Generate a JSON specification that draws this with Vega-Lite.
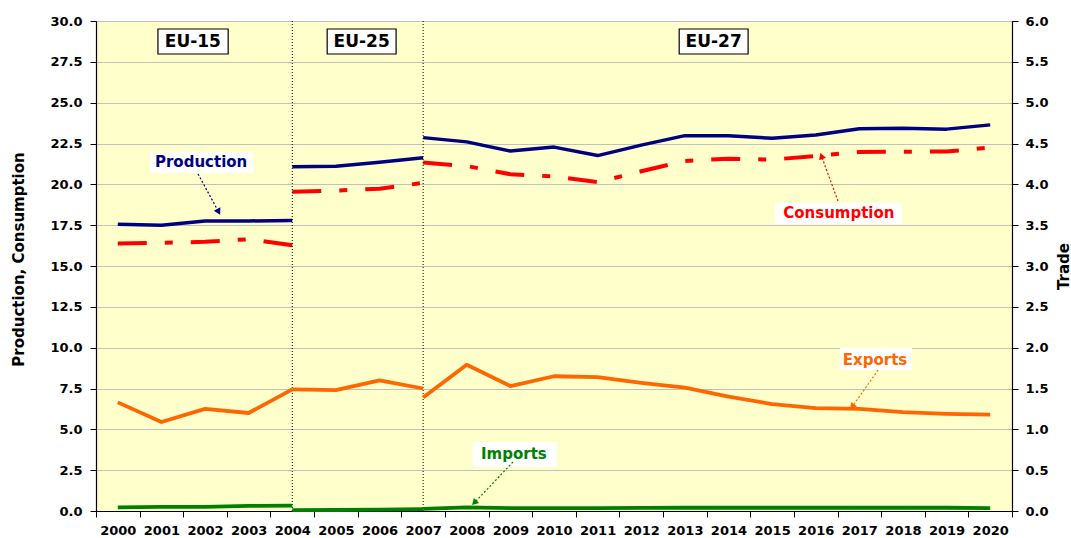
{
  "$schema": "https://vega.github.io/schema/vega-lite/v6.json",
  "width": 916,
  "height": 490,
  "autosize": {"type": "none"},
  "padding": {"left": 96, "top": 21, "right": 59, "bottom": 27},
  "background": "white",
  "config": {
    "view": {"fill": "#FFFFCC", "stroke": "#808080", "strokeWidth": 1},
    "font": "DejaVu Sans",
    "axis": {
      "labelFont": "DejaVu Sans", "labelFontWeight": "bold", "labelFontSize": 13, "labelColor": "#000000",
      "titleFont": "DejaVu Sans", "titleFontWeight": "bold", "titleFontSize": 15, "titleColor": "#000000",
      "domainColor": "#000000", "domainWidth": 1.2, "tickColor": "#000000", "tickSize": 6, "tickWidth": 1
    }
  },
  "datasets": {
    "main": [
      {"year": 2000, "series": "Production", "seg": "EU-15", "value": 17.55},
      {"year": 2001, "series": "Production", "seg": "EU-15", "value": 17.5},
      {"year": 2002, "series": "Production", "seg": "EU-15", "value": 17.76},
      {"year": 2003, "series": "Production", "seg": "EU-15", "value": 17.76},
      {"year": 2004, "series": "Production", "seg": "EU-15", "value": 17.78},
      {"year": 2004, "series": "Production", "seg": "EU-25", "value": 21.08},
      {"year": 2005, "series": "Production", "seg": "EU-25", "value": 21.1},
      {"year": 2006, "series": "Production", "seg": "EU-25", "value": 21.35},
      {"year": 2007, "series": "Production", "seg": "EU-25", "value": 21.63},
      {"year": 2007, "series": "Production", "seg": "EU-27", "value": 22.86},
      {"year": 2008, "series": "Production", "seg": "EU-27", "value": 22.6},
      {"year": 2009, "series": "Production", "seg": "EU-27", "value": 22.04},
      {"year": 2010, "series": "Production", "seg": "EU-27", "value": 22.28},
      {"year": 2011, "series": "Production", "seg": "EU-27", "value": 21.76},
      {"year": 2012, "series": "Production", "seg": "EU-27", "value": 22.4},
      {"year": 2013, "series": "Production", "seg": "EU-27", "value": 22.98},
      {"year": 2014, "series": "Production", "seg": "EU-27", "value": 22.98},
      {"year": 2015, "series": "Production", "seg": "EU-27", "value": 22.82},
      {"year": 2016, "series": "Production", "seg": "EU-27", "value": 23.02},
      {"year": 2017, "series": "Production", "seg": "EU-27", "value": 23.4},
      {"year": 2018, "series": "Production", "seg": "EU-27", "value": 23.43},
      {"year": 2019, "series": "Production", "seg": "EU-27", "value": 23.38},
      {"year": 2020, "series": "Production", "seg": "EU-27", "value": 23.64},
      {"year": 2000, "series": "Consumption", "seg": "EU-15", "value": 16.37},
      {"year": 2001, "series": "Consumption", "seg": "EU-15", "value": 16.42},
      {"year": 2002, "series": "Consumption", "seg": "EU-15", "value": 16.48},
      {"year": 2003, "series": "Consumption", "seg": "EU-15", "value": 16.64},
      {"year": 2004, "series": "Consumption", "seg": "EU-15", "value": 16.27},
      {"year": 2004, "series": "Consumption", "seg": "EU-25", "value": 19.55},
      {"year": 2005, "series": "Consumption", "seg": "EU-25", "value": 19.62},
      {"year": 2006, "series": "Consumption", "seg": "EU-25", "value": 19.73},
      {"year": 2007, "series": "Consumption", "seg": "EU-25", "value": 20.09},
      {"year": 2007, "series": "Consumption", "seg": "EU-27", "value": 21.33},
      {"year": 2008, "series": "Consumption", "seg": "EU-27", "value": 21.12},
      {"year": 2009, "series": "Consumption", "seg": "EU-27", "value": 20.62},
      {"year": 2010, "series": "Consumption", "seg": "EU-27", "value": 20.48},
      {"year": 2011, "series": "Consumption", "seg": "EU-27", "value": 20.13},
      {"year": 2012, "series": "Consumption", "seg": "EU-27", "value": 20.8},
      {"year": 2013, "series": "Consumption", "seg": "EU-27", "value": 21.43},
      {"year": 2014, "series": "Consumption", "seg": "EU-27", "value": 21.57},
      {"year": 2015, "series": "Consumption", "seg": "EU-27", "value": 21.51},
      {"year": 2016, "series": "Consumption", "seg": "EU-27", "value": 21.74},
      {"year": 2017, "series": "Consumption", "seg": "EU-27", "value": 21.98},
      {"year": 2018, "series": "Consumption", "seg": "EU-27", "value": 22.0},
      {"year": 2019, "series": "Consumption", "seg": "EU-27", "value": 22.01},
      {"year": 2020, "series": "Consumption", "seg": "EU-27", "value": 22.25}
    ],
    "trade": [
      {"year": 2000, "series": "Exports", "seg": "EU-15", "value": 1.33},
      {"year": 2001, "series": "Exports", "seg": "EU-15", "value": 1.09},
      {"year": 2002, "series": "Exports", "seg": "EU-15", "value": 1.25},
      {"year": 2003, "series": "Exports", "seg": "EU-15", "value": 1.2},
      {"year": 2004, "series": "Exports", "seg": "EU-15", "value": 1.49},
      {"year": 2004, "series": "Exports", "seg": "EU-25", "value": 1.49},
      {"year": 2005, "series": "Exports", "seg": "EU-25", "value": 1.48},
      {"year": 2006, "series": "Exports", "seg": "EU-25", "value": 1.6},
      {"year": 2007, "series": "Exports", "seg": "EU-25", "value": 1.5},
      {"year": 2007, "series": "Exports", "seg": "EU-27", "value": 1.39},
      {"year": 2008, "series": "Exports", "seg": "EU-27", "value": 1.79},
      {"year": 2009, "series": "Exports", "seg": "EU-27", "value": 1.53},
      {"year": 2010, "series": "Exports", "seg": "EU-27", "value": 1.65},
      {"year": 2011, "series": "Exports", "seg": "EU-27", "value": 1.64},
      {"year": 2012, "series": "Exports", "seg": "EU-27", "value": 1.57},
      {"year": 2013, "series": "Exports", "seg": "EU-27", "value": 1.51},
      {"year": 2014, "series": "Exports", "seg": "EU-27", "value": 1.4},
      {"year": 2015, "series": "Exports", "seg": "EU-27", "value": 1.31},
      {"year": 2016, "series": "Exports", "seg": "EU-27", "value": 1.26},
      {"year": 2017, "series": "Exports", "seg": "EU-27", "value": 1.25},
      {"year": 2018, "series": "Exports", "seg": "EU-27", "value": 1.21},
      {"year": 2019, "series": "Exports", "seg": "EU-27", "value": 1.19},
      {"year": 2020, "series": "Exports", "seg": "EU-27", "value": 1.18},
      {"year": 2000, "series": "Imports", "seg": "EU-15", "value": 0.045},
      {"year": 2001, "series": "Imports", "seg": "EU-15", "value": 0.05},
      {"year": 2002, "series": "Imports", "seg": "EU-15", "value": 0.05},
      {"year": 2003, "series": "Imports", "seg": "EU-15", "value": 0.063},
      {"year": 2004, "series": "Imports", "seg": "EU-15", "value": 0.066},
      {"year": 2004, "series": "Imports", "seg": "EU-25", "value": 0.01},
      {"year": 2005, "series": "Imports", "seg": "EU-25", "value": 0.012},
      {"year": 2006, "series": "Imports", "seg": "EU-25", "value": 0.018},
      {"year": 2007, "series": "Imports", "seg": "EU-25", "value": 0.022},
      {"year": 2007, "series": "Imports", "seg": "EU-27", "value": 0.025},
      {"year": 2008, "series": "Imports", "seg": "EU-27", "value": 0.045},
      {"year": 2009, "series": "Imports", "seg": "EU-27", "value": 0.036},
      {"year": 2010, "series": "Imports", "seg": "EU-27", "value": 0.035},
      {"year": 2011, "series": "Imports", "seg": "EU-27", "value": 0.035},
      {"year": 2012, "series": "Imports", "seg": "EU-27", "value": 0.038},
      {"year": 2013, "series": "Imports", "seg": "EU-27", "value": 0.04},
      {"year": 2014, "series": "Imports", "seg": "EU-27", "value": 0.04},
      {"year": 2015, "series": "Imports", "seg": "EU-27", "value": 0.04},
      {"year": 2016, "series": "Imports", "seg": "EU-27", "value": 0.04},
      {"year": 2017, "series": "Imports", "seg": "EU-27", "value": 0.04},
      {"year": 2018, "series": "Imports", "seg": "EU-27", "value": 0.04},
      {"year": 2019, "series": "Imports", "seg": "EU-27", "value": 0.04},
      {"year": 2020, "series": "Imports", "seg": "EU-27", "value": 0.035}
    ],
    "boxes": [
      {"label": "EU-15", "x1": 2000.92, "x2": 2002.53, "y1": 29.51, "y2": 27.98, "tx": 2001.72, "ty": 28.74},
      {"label": "EU-25", "x1": 2004.80, "x2": 2006.38, "y1": 29.51, "y2": 27.98, "tx": 2005.59, "ty": 28.74},
      {"label": "EU-27", "x1": 2012.87, "x2": 2014.45, "y1": 29.51, "y2": 27.98, "tx": 2013.66, "ty": 28.74}
    ],
    "labels": [
      {"series": "Production", "x1": 2000.74, "x2": 2003.10, "y1": 21.98, "y2": 20.69, "tx": 2001.91, "ty": 21.37},
      {"series": "Consumption", "x1": 2015.07, "x2": 2017.98, "y1": 18.86, "y2": 17.57, "tx": 2016.53, "ty": 18.25},
      {"series": "Exports", "x1": 2016.56, "x2": 2018.21, "y1": 9.98, "y2": 8.63, "tx": 2017.36, "ty": 9.25},
      {"series": "Imports", "x1": 2008.14, "x2": 2010.07, "y1": 4.22, "y2": 2.69, "tx": 2009.08, "ty": 3.49}
    ],
    "arrows": [
      {"series": "Production", "xs": 2001.84, "ys": 20.63, "xe": 2002.30, "ye": 18.37},
      {"series": "Consumption", "xs": 2016.51, "ys": 18.98, "xe": 2016.14, "ye": 21.67},
      {"series": "Exports", "xs": 2017.43, "ys": 8.63, "xe": 2016.85, "ye": 6.43},
      {"series": "Imports", "xs": 2009.06, "ys": 3.0, "xe": 2008.19, "ye": 0.55}
    ],
    "periods": [{"year": 2004}, {"year": 2007}]
  },
  "layer": [
    {
      "layer": [
        {
          "data": {"name": "main"},
          "transform": [{"filter": "datum.series === 'Production'"}],
          "mark": {"type": "line", "strokeWidth": 3.5, "strokeJoin": "round"},
          "encoding": {
            "x": {"field": "year", "type": "quantitative", "scale": {"domain": [1999.5, 2020.5], "nice": false, "zero": false},
              "axis": {"title": null, "values": [1999.5, 2000.5, 2001.5, 2002.5, 2003.5, 2004.5, 2005.5, 2006.5, 2007.5, 2008.5, 2009.5, 2010.5, 2011.5, 2012.5, 2013.5, 2014.5, 2015.5, 2016.5, 2017.5, 2018.5, 2019.5, 2020.5],
                "labelExpr": "datum.value > 2020 ? '' : format(datum.value + 0.5, 'd')", "labelOffset": 21.8, "labelFlush": false, "labelOverlap": false, "labelBound": false, "labelPadding": 7, "grid": false}},
            "y": {"field": "value", "type": "quantitative", "scale": {"domain": [0, 30], "nice": false},
              "axis": {"title": "Production, Consumption", "values": [0, 2.5, 5, 7.5, 10, 12.5, 15, 17.5, 20, 22.5, 25, 27.5, 30], "format": ".1f",
                "grid": true, "gridColor": "#C0C0C0", "gridWidth": 1, "labelPadding": 8, "titleAngle": 270, "titleX": -70, "titleY": 238, "titleBaseline": "bottom", "titleAlign": "center"}},
            "detail": {"field": "seg"},
            "color": {"field": "series", "type": "nominal", "scale": {"domain": ["Production", "Consumption", "Exports", "Imports"], "range": ["#000080", "#FF0000", "#FF6600", "#008000"]}, "legend": null}
          }
        },
        {
          "data": {"name": "main"},
          "transform": [{"filter": "datum.series === 'Consumption'"}],
          "mark": {"type": "line", "strokeWidth": 4, "strokeDash": [29, 18, 8, 18]},
          "encoding": {
            "x": {"field": "year", "type": "quantitative"},
            "y": {"field": "value", "type": "quantitative"},
            "detail": {"field": "seg"},
            "color": {"field": "series", "type": "nominal", "legend": null}
          }
        },
        {
          "data": {"name": "periods"},
          "mark": {"type": "rule", "color": "#000000", "strokeWidth": 1, "strokeDash": [1, 2]},
          "encoding": {"x": {"field": "year", "type": "quantitative"}}
        },
        {
          "data": {"name": "boxes"},
          "mark": {"type": "rect", "fill": "#FFFFFF", "stroke": "#000000", "strokeWidth": 1.2},
          "encoding": {
            "x": {"field": "x1", "type": "quantitative"},
            "x2": {"field": "x2"},
            "y": {"field": "y1", "type": "quantitative"},
            "y2": {"field": "y2"}
          }
        },
        {
          "data": {"name": "boxes"},
          "mark": {"type": "text", "font": "DejaVu Sans", "fontWeight": "bold", "fontSize": 17, "color": "#000000", "align": "center", "baseline": "middle"},
          "encoding": {
            "x": {"field": "tx", "type": "quantitative"},
            "y": {"field": "ty", "type": "quantitative"},
            "text": {"field": "label"}
          }
        },
        {
          "data": {"name": "labels"},
          "mark": {"type": "rect", "fill": "#FFFFFF"},
          "encoding": {
            "x": {"field": "x1", "type": "quantitative"},
            "x2": {"field": "x2"},
            "y": {"field": "y1", "type": "quantitative"},
            "y2": {"field": "y2"}
          }
        },
        {
          "data": {"name": "labels"},
          "mark": {"type": "text", "font": "DejaVu Sans", "fontWeight": "bold", "fontSize": 15, "align": "center", "baseline": "middle"},
          "encoding": {
            "x": {"field": "tx", "type": "quantitative"},
            "y": {"field": "ty", "type": "quantitative"},
            "text": {"field": "series"},
            "color": {"field": "series", "type": "nominal", "legend": null}
          }
        },
        {
          "data": {"name": "arrows"},
          "mark": {"type": "rule", "strokeWidth": 1.2, "strokeDash": [2, 2]},
          "encoding": {
            "x": {"field": "xs", "type": "quantitative"},
            "y": {"field": "ys", "type": "quantitative"},
            "x2": {"field": "xe"},
            "y2": {"field": "ye"},
            "color": {"field": "series", "type": "nominal", "legend": null}
          }
        },
        {
          "data": {"name": "arrows"},
          "transform": [{"filter": "datum.series === 'Production'"}],
          "mark": {"type": "point", "shape": "triangle", "filled": true, "opacity": 1, "size": 55, "angle": 152},
          "encoding": {
            "x": {"field": "xe", "type": "quantitative"},
            "y": {"field": "ye", "type": "quantitative"},
            "color": {"field": "series", "type": "nominal", "legend": null}
          }
        },
        {
          "data": {"name": "arrows"},
          "transform": [{"filter": "datum.series === 'Consumption'"}],
          "mark": {"type": "point", "shape": "triangle", "filled": true, "opacity": 1, "size": 55, "angle": 340},
          "encoding": {
            "x": {"field": "xe", "type": "quantitative"},
            "y": {"field": "ye", "type": "quantitative"},
            "color": {"field": "series", "type": "nominal", "legend": null}
          }
        },
        {
          "data": {"name": "arrows"},
          "transform": [{"filter": "datum.series === 'Exports'"}],
          "mark": {"type": "point", "shape": "triangle", "filled": true, "opacity": 1, "size": 55, "angle": 215},
          "encoding": {
            "x": {"field": "xe", "type": "quantitative"},
            "y": {"field": "ye", "type": "quantitative"},
            "color": {"field": "series", "type": "nominal", "legend": null}
          }
        },
        {
          "data": {"name": "arrows"},
          "transform": [{"filter": "datum.series === 'Imports'"}],
          "mark": {"type": "point", "shape": "triangle", "filled": true, "opacity": 1, "size": 55, "angle": 224},
          "encoding": {
            "x": {"field": "xe", "type": "quantitative"},
            "y": {"field": "ye", "type": "quantitative"},
            "color": {"field": "series", "type": "nominal", "legend": null}
          }
        }
      ]
    },
    {
      "data": {"name": "trade"},
      "mark": {"type": "line", "strokeWidth": 3.8, "strokeJoin": "round"},
      "encoding": {
        "x": {"field": "year", "type": "quantitative"},
        "y": {"field": "value", "type": "quantitative", "scale": {"domain": [0, 6], "nice": false},
          "axis": {"orient": "right", "title": "Trade", "values": [0, 0.5, 1, 1.5, 2, 2.5, 3, 3.5, 4, 4.5, 5, 5.5, 6], "format": ".1f", "grid": false, "labelPadding": 7,
            "titleAngle": 270, "titleX": 44, "titleY": 245, "titleBaseline": "top", "titleAlign": "center", "titleFontSize": 15}},
        "detail": {"field": "seg"},
        "color": {"field": "series", "type": "nominal", "legend": null}
      }
    }
  ],
  "resolve": {"scale": {"y": "independent"}}
}
